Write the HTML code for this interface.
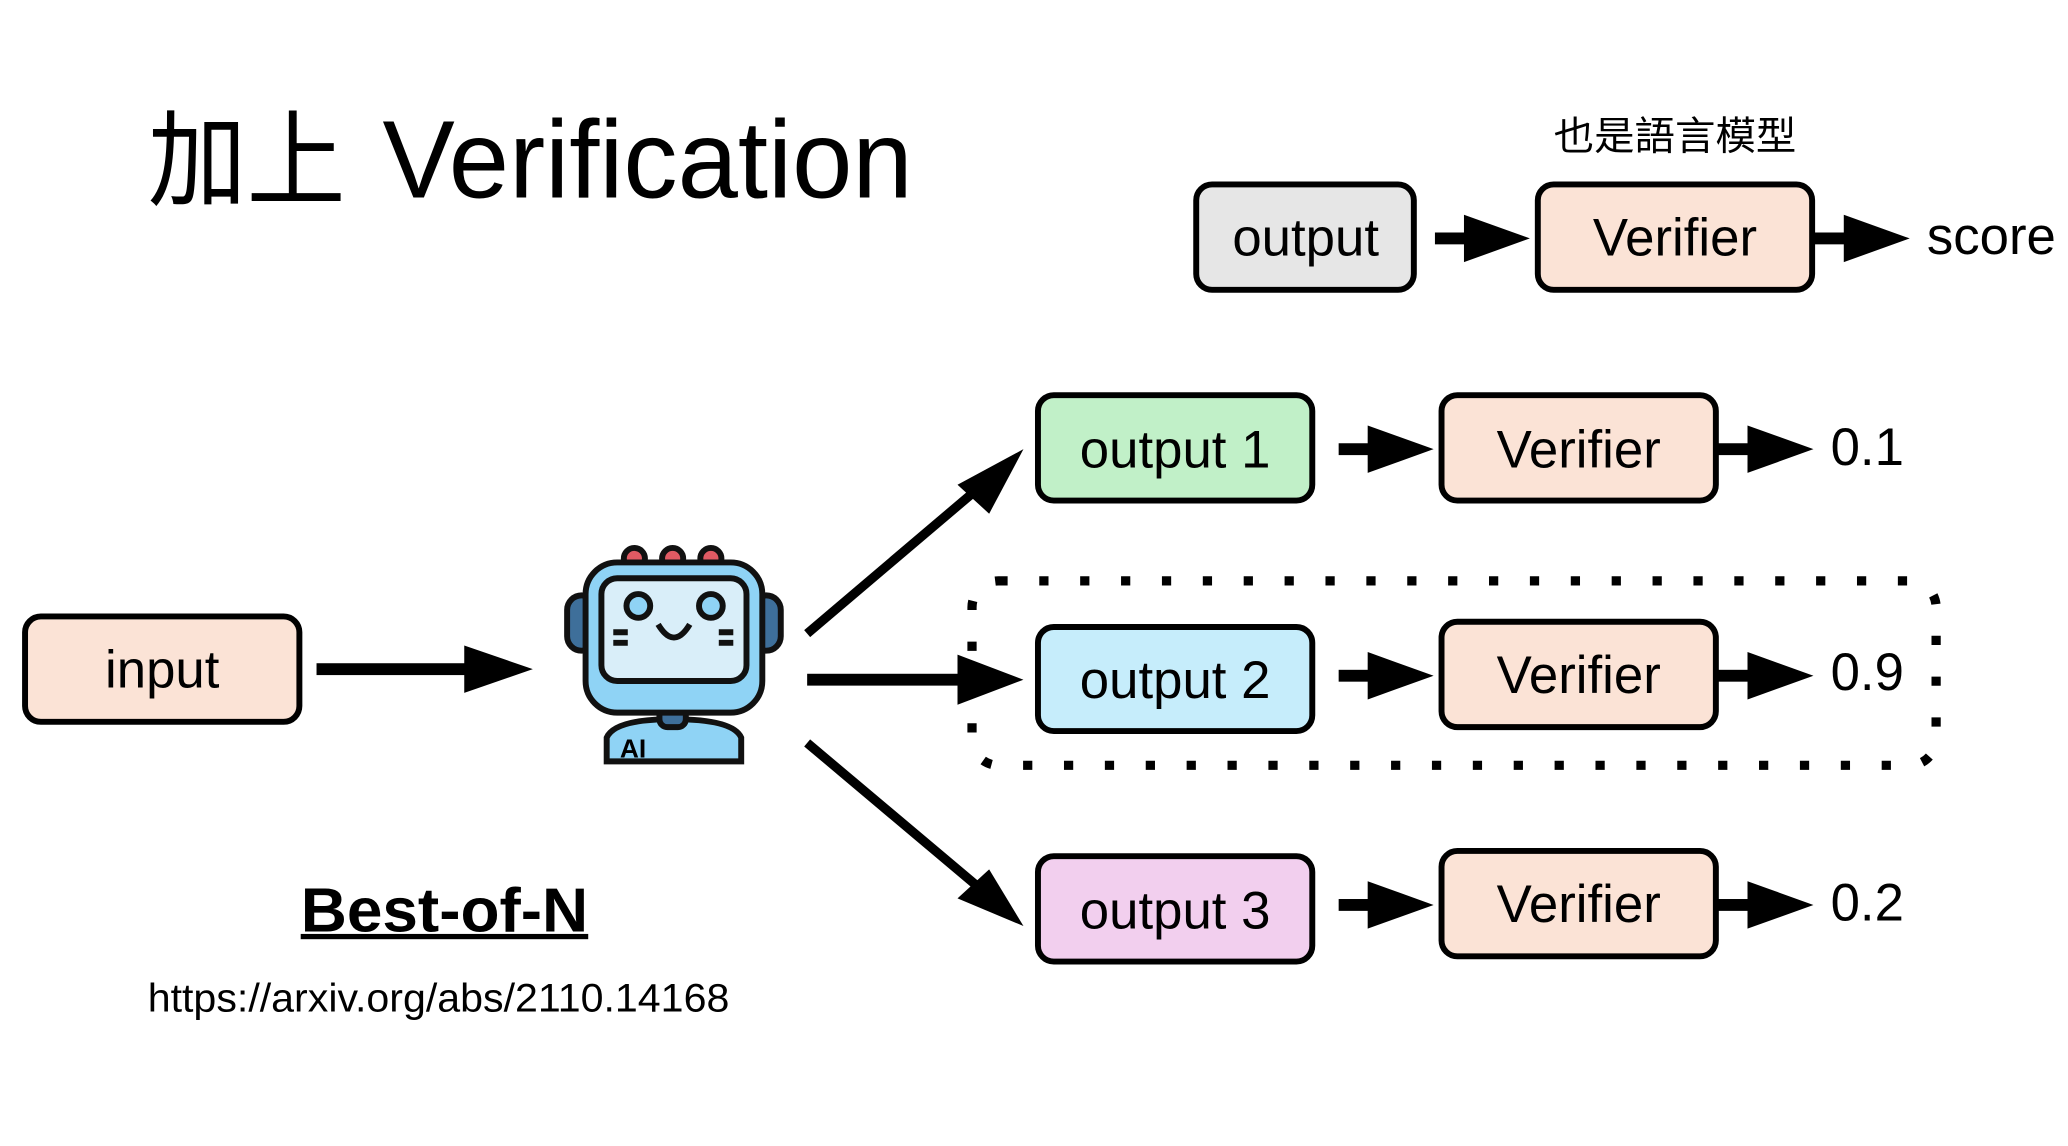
<!DOCTYPE html>
<html><head><meta charset="utf-8"><style>
html,body{margin:0;padding:0;background:#fff;width:2068px;height:1146px;overflow:hidden}
svg{display:block}
text{font-family:"Liberation Sans","Noto Sans CJK TC",sans-serif;fill:#000}
</style></head><body>
<svg width="2068" height="1146" viewBox="0 0 1568 870" preserveAspectRatio="none" xmlns="http://www.w3.org/2000/svg">
<defs>
<g id="ar"><rect x="0" y="-4.5" width="40" height="9"/><polygon points="22,-18 72,0 22,18"/></g>
</defs>
<!-- title -->
<text x="112" y="150" font-size="80" textLength="150" lengthAdjust="spacingAndGlyphs">加上</text>
<text x="290" y="150" font-size="84" textLength="402" lengthAdjust="spacingAndGlyphs">Verification</text>
<text x="1178" y="114" font-size="30" textLength="184" lengthAdjust="spacingAndGlyphs">也是語言模型</text>

<g stroke="#000" stroke-width="4.5">
<rect x="907" y="140" width="165" height="80" rx="12" fill="#e6e6e6"/>
<rect x="1166" y="140" width="208" height="80" rx="12" fill="#fbe3d6"/>
<rect x="787" y="300" width="208" height="80" rx="12" fill="#c1f0c8"/>
<rect x="1093" y="300" width="208" height="80" rx="12" fill="#fbe3d6"/>
<rect x="787" y="476" width="208" height="79" rx="12" fill="#c6edfb"/>
<rect x="1093" y="472" width="208" height="80" rx="12" fill="#fbe3d6"/>
<rect x="787" y="650" width="208" height="80" rx="12" fill="#f2cfee"/>
<rect x="1093" y="646" width="208" height="80" rx="12" fill="#fbe3d6"/>
<rect x="19" y="468" width="208" height="80" rx="12" fill="#fbe3d6"/>
</g>
<rect x="737" y="441" width="731" height="140" rx="20" fill="none" stroke="#000" stroke-width="7" stroke-dasharray="7 24"/>

<g font-size="40" text-anchor="middle">
<text x="990" y="194">output</text>
<text x="1270" y="194">Verifier</text>
<text x="891" y="355">output 1</text>
<text x="1197" y="355">Verifier</text>
<text x="891" y="530">output 2</text>
<text x="1197" y="526">Verifier</text>
<text x="891" y="705">output 3</text>
<text x="1197" y="700">Verifier</text>
<text x="123" y="522">input</text>
</g>
<g font-size="40">
<text x="1461" y="193">score</text>
<text x="1388" y="353">0.1</text>
<text x="1388" y="524">0.9</text>
<text x="1388" y="699">0.2</text>
</g>

<use href="#ar" x="1088" y="181"/>
<use href="#ar" x="1376" y="181"/>
<use href="#ar" x="1015" y="341"/>
<use href="#ar" x="1303" y="341"/>
<use href="#ar" x="1015" y="513"/>
<use href="#ar" x="1303" y="513"/>
<use href="#ar" x="1015" y="687"/>
<use href="#ar" x="1303" y="687"/>
<!-- input arrow -->
<rect x="240" y="503.5" width="120" height="9"/>
<polygon points="352,490 404,508 352,526"/>
<!-- robot arrows -->
<line x1="612" y1="481" x2="752" y2="362" stroke="#000" stroke-width="7"/>
<polygon points="776,341 726,368 750,390"/>
<rect x="612" y="511.5" width="120" height="9"/>
<polygon points="726,497 776,516 726,535"/>
<line x1="612" y1="564" x2="752" y2="682" stroke="#000" stroke-width="7"/>
<polygon points="776,703 750,660 726,682"/>

<!-- robot -->
<g stroke="#111" stroke-width="4.5">
<circle cx="481" cy="424" r="8" fill="#e05a63"/>
<circle cx="510" cy="424" r="8" fill="#e05a63"/>
<circle cx="539" cy="424" r="8" fill="#e05a63"/>
<rect x="430" y="452" width="22" height="42" rx="11" fill="#3e6f9a"/>
<rect x="570" y="452" width="22" height="42" rx="11" fill="#3e6f9a"/>
<path d="M460,578 L460,560 Q466,546 510,546 Q556,546 562,560 L562,578 Z" fill="#8fd3f5"/>
<rect x="500" y="536" width="20" height="16" rx="6" fill="#3e6f9a"/>
<rect x="444" y="427" width="134" height="114" rx="24" fill="#8fd3f5"/>
<rect x="456" y="439" width="110" height="78" rx="12" fill="#d9eef9"/>
<circle cx="484" cy="460" r="9" fill="#8fd3f5"/>
<circle cx="539" cy="460" r="9" fill="#8fd3f5"/>
<path d="M499,474 Q511,494 523,474" fill="none"/>
<path d="M465,480 H476 M465,488 H476 M545,480 H556 M545,488 H556" fill="none"/>
</g>
<text x="470" y="575" font-size="20" font-weight="bold">AI</text>

<text x="228" y="707" font-size="47" font-weight="bold" textLength="218" lengthAdjust="spacingAndGlyphs">Best-of-N</text>
<rect x="228" y="709" width="218" height="4"/>
<text x="112" y="768" font-size="30" textLength="441" lengthAdjust="spacingAndGlyphs">https://arxiv.org/abs/2110.14168</text>
</svg>
</body></html>
